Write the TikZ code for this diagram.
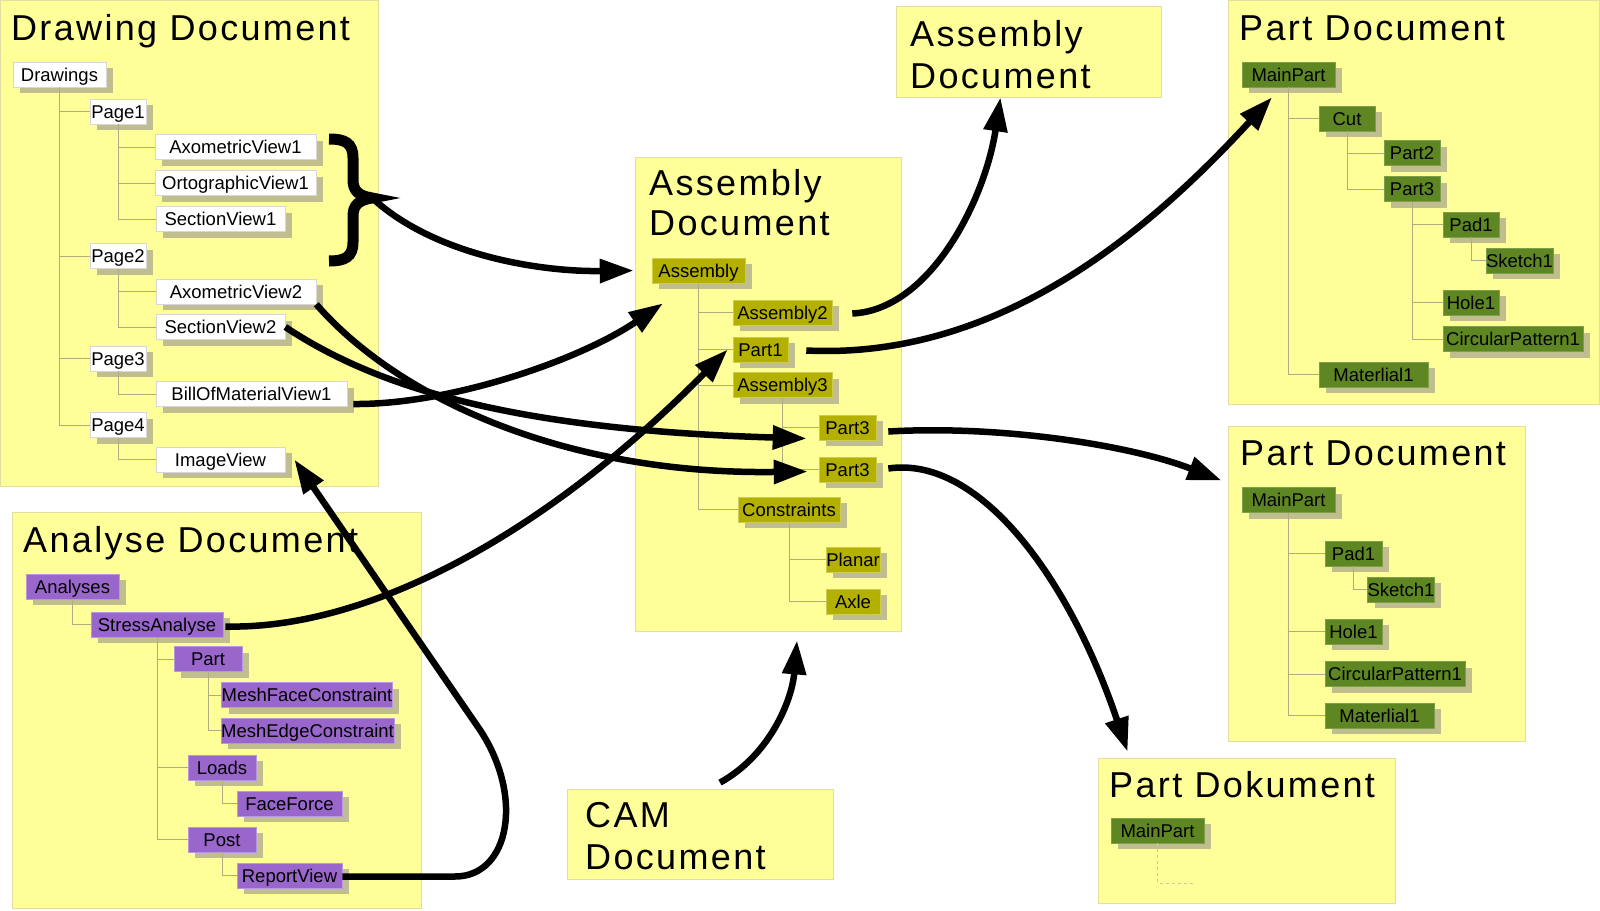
\documentclass[tikz,border=0pt]{standalone}
\usepackage{fontspec}
\setmainfont{Liberation Sans}
\usetikzlibrary{arrows.meta,shadows}
\definecolor{docfill}{RGB}{255,255,153}
\definecolor{docdraw}{RGB}{225,222,160}
\definecolor{shadowc}{RGB}{192,190,143}
\definecolor{wdraw}{RGB}{215,215,215}
\definecolor{asmfill}{RGB}{179,176,0}
\definecolor{asmdraw}{RGB}{205,203,80}
\definecolor{partfill}{RGB}{94,134,35}
\definecolor{partdraw}{RGB}{125,158,75}
\definecolor{purfill}{RGB}{153,102,204}
\definecolor{purdraw}{RGB}{185,150,225}
\definecolor{treec}{RGB}{175,173,128}
\newcommand{\titlefont}{\fontsize{36}{40}\selectfont\addfontfeature{LetterSpace=6.5}}
\tikzset{
  docbox/.style={draw=docdraw,fill=docfill,line width=0.8pt,inner sep=0pt,rectangle},
  doctitle/.style={anchor=base west,inner sep=0pt,font=\titlefont},
  tn/.style={rectangle,inner sep=0pt,minimum height=25pt,text height=13.2pt,text depth=0pt,
    font=\fontsize{18.5}{20}\selectfont,line width=0.6pt,
    drop shadow={shadow xshift=7pt,shadow yshift=-6pt,opacity=1,fill=shadowc,draw=none}},
  wn/.style={tn,fill=white,draw=wdraw},
  an/.style={tn,fill=asmfill,draw=asmdraw},
  pn/.style={tn,fill=partfill,draw=partdraw},
  un/.style={tn,fill=purfill,draw=purdraw},
  tl/.style={draw=treec,line width=0.7pt},
  conn/.style={line width=6.5pt,-{Triangle[length=34pt,width=23pt]}},
}
\begin{document}
\begin{tikzpicture}[x=1pt,y=-1pt]
\useasboundingbox (0,0) rectangle (1600,910);
% document boxes
\node[docbox,minimum width=378pt,minimum height=486pt] (drawdoc) at (189,243) {};
\node[docbox,minimum width=266pt,minimum height=474pt] (asmdoc) at (768,394) {};
\node[docbox,minimum width=265pt,minimum height=91pt] (asmtop) at (1028.5,51.5) {};
\node[docbox,minimum width=371pt,minimum height=404pt] (pd1) at (1413.5,202) {};
\node[docbox,minimum width=297pt,minimum height=315pt] (pd2) at (1376.5,583.5) {};
\node[docbox,minimum width=297pt,minimum height=145pt] (pdk) at (1246.5,830.5) {};
\node[docbox,minimum width=409pt,minimum height=396pt] (anadoc) at (216.5,710) {};
\node[docbox,minimum width=266pt,minimum height=90pt] (camdoc) at (700,834) {};
% titles
\node[doctitle] (t1) at (11,40.5) {Drawing Document};
\node[doctitle] (t2a) at (649,195) {Assembly};
\node[doctitle] (t2b) at (649,235) {Document};
\node[doctitle] (t3a) at (910,46) {Assembly};
\node[doctitle] (t3b) at (910,88) {Document};
\node[doctitle] (t4) at (1239,40) {Part Document};
\node[doctitle] (t5) at (1240,465) {Part Document};
\node[doctitle] (t6) at (1109,797) {Part Dokument};
\node[doctitle] (t7) at (23,552) {Analyse Document};
\node[doctitle] (t8a) at (585,827) {CAM};
\node[doctitle] (t8b) at (585,869) {Document};
% drawing document tree
\node[wn,minimum width=93pt] (drawings) at (59.5,74.5) {Drawings};
\node[wn,minimum width=56pt] (page1) at (118,111.5) {Page1};
\node[wn,minimum width=161pt] (axo1) at (235.5,147) {AxometricView1};
\node[wn,minimum width=161pt] (orto1) at (235.5,183) {OrtographicView1};
\node[wn,minimum width=129pt] (sec1) at (220.5,219) {SectionView1};
\node[wn,minimum width=56pt] (page2) at (118,256) {Page2};
\node[wn,minimum width=160pt] (axo2) at (236,291.5) {AxometricView2};
\node[wn,minimum width=129pt] (sec2) at (220.5,327) {SectionView2};
\node[wn,minimum width=56pt] (page3) at (118,358.5) {Page3};
\node[wn,minimum width=191pt] (bom) at (251.5,394) {BillOfMaterialView1};
\node[wn,minimum width=56pt] (page4) at (118,425) {Page4};
\node[wn,minimum width=129pt] (imgv) at (220.5,459.5) {ImageView};
\draw[tl] (drawings.south) |- (page1.west);
\draw[tl] (drawings.south) |- (page2.west);
\draw[tl] (drawings.south) |- (page3.west);
\draw[tl] (drawings.south) |- (page4.west);
\draw[tl] (page1.south) |- (axo1.west);
\draw[tl] (page1.south) |- (orto1.west);
\draw[tl] (page1.south) |- (sec1.west);
\draw[tl] (page2.south) |- (axo2.west);
\draw[tl] (page2.south) |- (sec2.west);
\draw[tl] (page3.south) |- (bom.west);
\draw[tl] (page4.south) |- (imgv.west);
% assembly tree
\node[an,minimum width=93pt] (asm) at (698.5,270.5) {Assembly};
\node[an,minimum width=99pt] (asm2) at (782.5,312.5) {Assembly2};
\node[an,minimum width=55pt] (part1) at (760.5,349.5) {Part1};
\node[an,minimum width=99pt] (asm3) at (782.5,385) {Assembly3};
\node[an,minimum width=57pt] (p3a) at (847.5,427.5) {Part3};
\node[an,minimum width=57pt] (p3b) at (847.5,469.5) {Part3};
\node[an,minimum width=102pt] (constr) at (789,509.5) {Constraints};
\node[an,minimum width=54pt] (planar) at (853,559.5) {Planar};
\node[an,minimum width=54pt] (axle) at (853,601.5) {Axle};
\draw[tl] (asm.south) |- (asm2.west);
\draw[tl] (asm.south) |- (part1.west);
\draw[tl] (asm.south) |- (asm3.west);
\draw[tl] (asm.south) |- (constr.west);
\draw[tl] (asm3.south) |- (p3a.west);
\draw[tl] (asm3.south) |- (p3b.west);
\draw[tl] (constr.south) |- (planar.west);
\draw[tl] (constr.south) |- (axle.west);
% part document 1
\node[pn,minimum width=93pt] (mp1) at (1288.5,74.5) {MainPart};
\node[pn,minimum width=56pt] (cut) at (1347,118.5) {Cut};
\node[pn,minimum width=56pt] (pt2) at (1412,153) {Part2};
\node[pn,minimum width=56pt] (pt3) at (1412,189) {Part3};
\node[pn,minimum width=56pt] (pad1a) at (1471,224.5) {Pad1};
\node[pn,minimum width=65pt] (sk1a) at (1519.5,260.5) {Sketch1};
\node[pn,minimum width=56pt] (hole1a) at (1471,302.5) {Hole1};
\node[pn,minimum width=140pt] (circa) at (1513,339) {CircularPattern1};
\node[pn,minimum width=109pt] (mat1a) at (1373.5,374.5) {Materlial1};
\draw[tl] (mp1.south) |- (cut.west);
\draw[tl] (mp1.south) |- (mat1a.west);
\draw[tl] (cut.south) |- (pt2.west);
\draw[tl] (cut.south) |- (pt3.west);
\draw[tl] (pt3.south) |- (pad1a.west);
\draw[tl] (pt3.south) |- (hole1a.west);
\draw[tl] (pt3.south) |- (circa.west);
\draw[tl] (pad1a.south) |- (sk1a.west);
% part document 2
\node[pn,minimum width=93pt] (mp2) at (1288.5,500) {MainPart};
\node[pn,minimum width=57pt] (pad1b) at (1353.5,553.5) {Pad1};
\node[pn,minimum width=66pt] (sk1b) at (1401,589.5) {Sketch1};
\node[pn,minimum width=57pt] (hole1b) at (1353.5,631.5) {Hole1};
\node[pn,minimum width=140pt] (circb) at (1395,674) {CircularPattern1};
\node[pn,minimum width=109pt] (mat1b) at (1379.5,715.5) {Materlial1};
\draw[tl] (mp2.south) |- (pad1b.west);
\draw[tl] (mp2.south) |- (hole1b.west);
\draw[tl] (mp2.south) |- (circb.west);
\draw[tl] (mp2.south) |- (mat1b.west);
\draw[tl] (pad1b.south) |- (sk1b.west);
% part dokument
\node[pn,minimum width=93pt] (mp3) at (1157.5,830.5) {MainPart};
\coordinate (mp3end) at (1195,883);
\draw[draw=docdraw!80!gray,line width=0.7pt,dashed] (mp3.south) |- (mp3end);
% analyse document
\node[un,minimum width=93pt] (analyses) at (72.5,586.5) {Analyses};
\node[un,minimum width=132pt] (stress) at (157,624.5) {StressAnalyse};
\node[un,minimum width=68pt] (apart) at (208,659) {Part};
\node[un,minimum width=168pt] (mfc) at (307,695) {MeshFaceConstraint};
\node[un,minimum width=167pt] (mec) at (307.5,730.5) {MeshEdgeConstraint};
\node[un,minimum width=68pt] (loads) at (222,767.5) {Loads};
\node[un,minimum width=105pt] (ff) at (289.5,803.5) {FaceForce};
\node[un,minimum width=68pt] (post) at (222,839.5) {Post};
\node[un,minimum width=105pt] (report) at (289.5,875.5) {ReportView};
\draw[tl] (analyses.south) |- (stress.west);
\draw[tl] (stress.south) |- (apart.west);
\draw[tl] (stress.south) |- (loads.west);
\draw[tl] (stress.south) |- (post.west);
\draw[tl] (apart.south) |- (mfc.west);
\draw[tl] (apart.south) |- (mec.west);
\draw[tl] (loads.south) |- (ff.west);
\draw[tl] (post.south) |- (report.west);
% brace
\draw[line width=11pt] (329,139) .. controls (345,139) and (353,143) .. (353,158) -- (353,180)
  .. controls (353,191) and (359,196) .. (372,198) .. controls (359,200) and (353,205) .. (353,216)
  -- (353,242) .. controls (353,257) and (345,261) .. (329,261);
\coordinate (bracetip) at (368,194);
% connectors
\draw[conn] (bracetip) .. controls (430,255) and (540,272) .. ([xshift=-18pt]asm.west);
\draw[conn] (axo2.south east) .. controls (395,395) and (560,475) .. ([shift={(-11,2)}]p3b.west);
\draw[conn] (sec2.east) .. controls (380,390) and (520,430) .. ([shift={(-12,11)}]p3a.west);
\draw[conn] ([shift={(6,10)}]bom.east) .. controls (450,405) and (580,360) .. ([shift={(-35.5,20)}]asm.south);
\draw[conn] ([shift={(2,2)}]stress.east) .. controls (380,630) and (560,520) .. ([xshift=-5pt]part1.west);
\draw[conn] ([shift={(0,1)}]report.east) -- (455,876.5) .. controls (510,876.5) and (525,795) .. (478,727) -- ([xshift=9pt]imgv.east);
\draw[conn] ([shift={(20,1)}]asm2.east) .. controls (930,310) and (985,200) .. ([xshift=-28pt]asmtop.south);
\draw[conn] ([shift={(18,1)}]part1.east) .. controls (1000,360) and (1150,230) .. ([shift={(-16.5,10)}]mp1.south);
\draw[conn] ([shift={(12,4)}]p3a.east) .. controls (1000,425) and (1130,445) .. ([shift={(-6,55)}]pd2.north west);
\draw[conn] ([shift={(12,-1)}]p3b.east) .. controls (980,455) and (1070,580) .. ([shift={(30,-6)}]pdk.north west);
\draw[conn] ([shift={(20,-6)}]camdoc.north) .. controls (770,755) and (792,700) .. ([shift={(29,9)}]asmdoc.south);
\end{tikzpicture}
\end{document}
